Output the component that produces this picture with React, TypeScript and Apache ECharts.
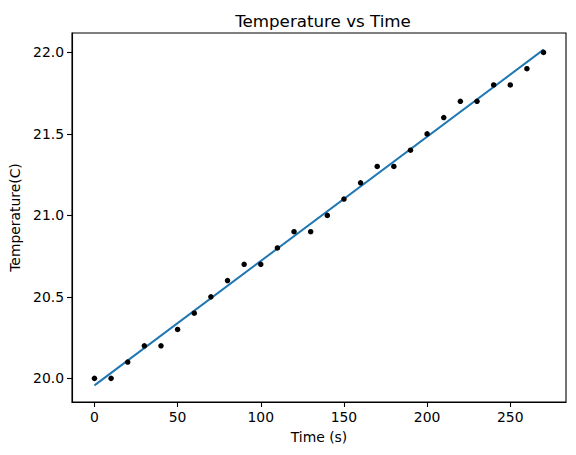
import React, { useEffect, useRef } from "react";
import * as echarts from "echarts";

const times = [0, 10, 20, 30, 40, 50, 60, 70, 80, 90, 100, 110, 120, 130, 140, 150, 160, 170, 180, 190, 200, 210, 220, 230, 240, 250, 260, 270];
const temps = [20.0, 20.0, 20.1, 20.2, 20.2, 20.3, 20.4, 20.5, 20.6, 20.7, 20.7, 20.8, 20.9, 20.9, 21.0, 21.1, 21.2, 21.3, 21.3, 21.4, 21.5, 21.6, 21.7, 21.7, 21.8, 21.8, 21.9, 22.0];
const fitX = [0, 270];
const fitY = [19.957, 22.017];
const xTicks = [0, 50, 100, 150, 200, 250];
const yTicks = [20.0, 20.5, 21.0, 21.5, 22.0];

const FONT = "DejaVu Sans";

export default function App() {
  const ref = useRef<HTMLDivElement>(null);
  useEffect(() => {
    document.body.style.margin = "0";
    const chart = echarts.init(ref.current!, null, { renderer: "svg" });
    chart.setOption({
      animation: false,
      backgroundColor: "#ffffff",
      textStyle: { fontFamily: FONT, color: "#000" },
      title: {
        text: "Temperature vs Time",
        left: 318,
        top: 7,
        textAlign: "center",
        textStyle: { fontFamily: FONT, fontSize: 16.7, fontWeight: "normal", color: "#000" },
      },
      grid: {
        left: 70,
        right: 10,
        top: 33,
        bottom: 53,
        show: true,
        borderColor: "#000",
        borderWidth: 1.1,
        backgroundColor: "transparent",
      },
      xAxis: {
        type: "value",
        min: -13.5,
        max: 283.5,
        name: "Time (s)",
        nameLocation: "middle",
        nameGap: 28,
        nameTextStyle: { fontFamily: FONT, fontSize: 13.9, color: "#000" },
        axisLine: { show: true, onZero: false, lineStyle: { color: "#000", width: 1.1 } },
        axisTick: { show: true, inside: false, length: 5, customValues: xTicks, lineStyle: { color: "#000", width: 1.1 } },
        axisLabel: { customValues: xTicks, margin: 8, fontFamily: FONT, fontSize: 13.9, color: "#000" },
        splitLine: { show: false },
      },
      yAxis: {
        type: "value",
        min: 19.855,
        max: 22.119,
        name: "Temperature(C)",
        nameLocation: "middle",
        nameGap: 50,
        nameTextStyle: { fontFamily: FONT, fontSize: 13.9, color: "#000" },
        axisLine: { show: true, onZero: false, lineStyle: { color: "#000", width: 1.1 } },
        axisTick: { show: true, inside: false, length: 5, customValues: yTicks, lineStyle: { color: "#000", width: 1.1 } },
        axisLabel: {
          customValues: yTicks,
          margin: 8,
          fontFamily: FONT,
          fontSize: 13.9,
          color: "#000",
          formatter: (v: number) => v.toFixed(1),
        },
        splitLine: { show: false },
      },
      series: [
        {
          type: "scatter",
          data: times.map((t, i) => [t, temps[i]]),
          symbol: "circle",
          symbolSize: 5.5,
          itemStyle: { color: "#000", opacity: 1 },
          z: 3,
        },
        {
          type: "line",
          data: fitX.map((t, i) => [t, fitY[i]]),
          symbol: "none",
          lineStyle: { color: "#1f77b4", width: 2 },
          z: 2,
        },
      ],
    });
    return () => chart.dispose();
  }, []);
  return <div ref={ref} style={{ width: 576, height: 455 }} />;
}
